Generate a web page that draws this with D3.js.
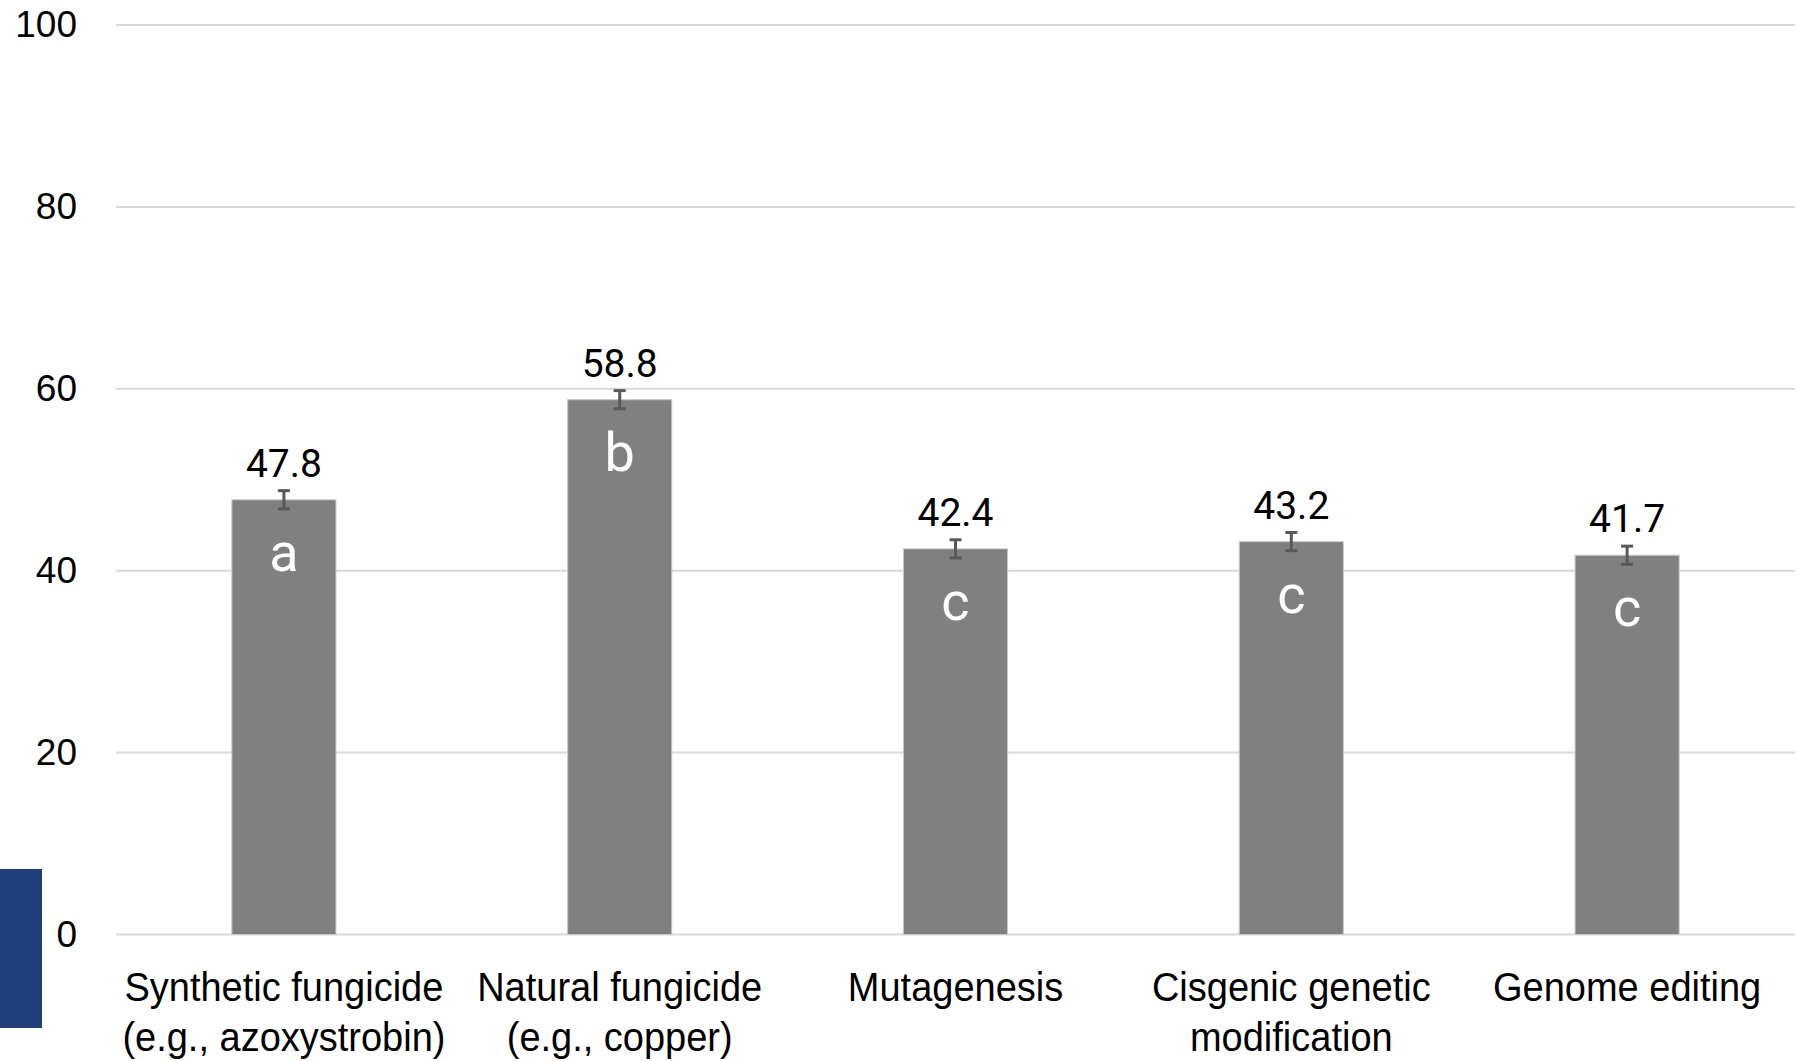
<!DOCTYPE html>
<html>
<head>
<meta charset="utf-8">
<script src="https://cdnjs.cloudflare.com/ajax/libs/d3/7.8.5/d3.min.js"></script>
<style>
  html, body { margin: 0; padding: 0; background: #fff; }
  #chart { width: 1798px; height: 1061px; }
</style>
</head>
<body>
<div id="chart"></div>
<script>
// Data
var categories = [
  ["Synthetic fungicide", "(e.g., azoxystrobin)"],
  ["Natural fungicide", "(e.g., copper)"],
  ["Mutagenesis"],
  ["Cisgenic genetic", "modification"],
  ["Genome editing"]
];
var values = [47.8, 58.8, 42.4, 43.2, 41.7];
var errors = [1.0, 1.0, 1.0, 1.0, 1.0];
var letters = ["a", "b", "c", "c", "c"];
var yTicks = [0, 20, 40, 60, 80, 100];

var width = 1798, height = 1061;
var margin = {left: 116, right: 3, top: 25, bottom: 127};

var svg = d3.select("#chart")
    .append("svg")
    .attr("width", width)
    .attr("height", height)
    .attr("viewBox", "0 0 " + width + " " + height);

// Blue tab at lower left
svg.append("rect")
    .attr("x", 0)
    .attr("y", 869)
    .attr("width", 42)
    .attr("height", 159)
    .attr("fill", "#203f7a");

var x = d3.scaleBand()
    .domain(d3.range(values.length))
    .range([margin.left, width - margin.right])
    .paddingInner(0.69)
    .paddingOuter(0.345);

var y = d3.scaleLinear()
    .domain([0, 100])
    .range([height - margin.bottom + 0.5, margin.top]);

// Gridlines
svg.append("g")
    .selectAll("line")
    .data(yTicks)
    .join("line")
    .attr("x1", margin.left)
    .attr("x2", width - margin.right)
    .attr("y1", d => y(d))
    .attr("y2", d => y(d))
    .attr("stroke", "#d9d9d9")
    .attr("stroke-width", 2);

// Y axis labels
var yAxis = d3.axisLeft(y).tickValues(yTicks).tickSize(0).tickPadding(0);
svg.append("g")
    .attr("transform", "translate(77,0)")
    .call(yAxis)
    .call(g => g.select(".domain").remove())
    .selectAll("text")
    .attr("font-family", "'Liberation Sans', Arial, sans-serif")
    .attr("font-size", 37)
    .attr("fill", "#000");

// Bars
svg.append("g")
    .selectAll("rect")
    .data(values)
    .join("rect")
    .attr("x", (d, i) => x(i))
    .attr("y", d => y(d))
    .attr("width", x.bandwidth())
    .attr("height", d => y(0) - y(d))
    .attr("fill", "#808080")
    .attr("stroke", "#c8c8c8")
    .attr("stroke-width", 1);

// Error bars
var eb = svg.append("g")
    .attr("stroke", "#595959")
    .attr("stroke-width", 3);
values.forEach(function(v, i) {
  var cx = x(i) + x.bandwidth() / 2;
  eb.append("line")
      .attr("x1", cx).attr("x2", cx)
      .attr("y1", y(v + errors[i])).attr("y2", y(v - errors[i]));
  eb.append("line")
      .attr("x1", cx - 6).attr("x2", cx + 6)
      .attr("y1", y(v + errors[i])).attr("y2", y(v + errors[i]));
  eb.append("line")
      .attr("x1", cx - 6).attr("x2", cx + 6)
      .attr("y1", y(v - errors[i])).attr("y2", y(v - errors[i]));
});

// Value labels
svg.append("g")
    .selectAll("text")
    .data(values)
    .join("text")
    .attr("x", (d, i) => x(i) + x.bandwidth() / 2)
    .attr("y", (d, i) => y(d + errors[i]) - 14)
    .attr("text-anchor", "middle")
    .attr("font-family", "Roboto, sans-serif")
    .attr("font-size", 39)
    .attr("fill", "#000")
    .text(d => d.toFixed(1));

// Significance letters
svg.append("g")
    .selectAll("text")
    .data(letters)
    .join("text")
    .attr("x", (d, i) => x(i) + x.bandwidth() / 2)
    .attr("y", (d, i) => y(values[i]) + 71)
    .attr("text-anchor", "middle")
    .attr("font-family", "Roboto, sans-serif")
    .attr("font-size", 54)
    .attr("fill", "#fff")
    .text(d => d);

// Category labels (squeezed a little to mimic the narrow face)
var cat = svg.append("g")
    .selectAll("text")
    .data(categories)
    .join("text")
    .attr("transform", (d, i) => "translate(" + (x(i) + x.bandwidth() / 2) + ",1001) scale(0.95,1)")
    .attr("text-anchor", "middle")
    .attr("font-family", "'Liberation Sans', sans-serif")
    .attr("font-size", 40)
    .attr("fill", "#000");
cat.selectAll("tspan")
    .data(d => d)
    .join("tspan")
    .attr("x", 0)
    .attr("dy", (d, j) => j === 0 ? 0 : 50)
    .text(d => d);
</script>
</body>
</html>
